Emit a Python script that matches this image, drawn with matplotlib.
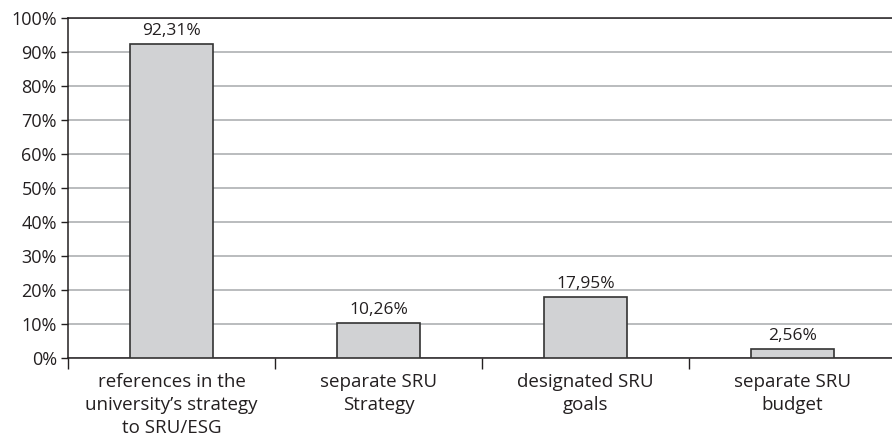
import matplotlib.pyplot as plt
from matplotlib.ticker import FixedLocator

categories = ["references in the\nuniversity\u2019s strategy\nto SRU/ESG",
              "separate SRU\nStrategy",
              "designated SRU\ngoals",
              "separate SRU\nbudget"]
values = [92.31, 10.26, 17.95, 2.56]
yticks = [0, 10, 20, 30, 40, 50, 60, 70, 80, 90, 100]

plt.rcParams['font.family'] = ['Open Sans', 'DejaVu Sans']
txt = '#231f20'

fig = plt.figure(figsize=(8.92, 4.38), dpi=100)
ax = fig.add_axes([0.0762, 0.1826, 0.928, 0.7763])

x = list(range(len(values)))
ax.bar(x, values, width=0.4, color='#d1d2d4', edgecolor='#333333', linewidth=1.2, zorder=3)
for xi, v in zip(x, values):
    ax.text(xi, v + 1.5, f"{v:.2f}%".replace('.', ','), ha='center', va='bottom',
            fontsize=12.5, color=txt)

ax.set_xlim(-0.5, 3.5)
ax.set_ylim(0, 100)
ax.set_yticks(yticks)
ax.set_yticklabels([f"{t}%" for t in yticks], fontsize=13, color=txt)
ax.yaxis.grid(True, color='#a7a9ac', linewidth=1.1, zorder=0)

ax.set_xticks(x)
ax.set_xticklabels(categories, fontsize=13.5, color=txt, linespacing=1.36)
ax.tick_params(axis='x', which='major', length=0, pad=11)
ax.xaxis.set_minor_locator(FixedLocator([-0.5, 0.5, 1.5, 2.5]))
ax.tick_params(axis='x', which='minor', length=8, width=1, color='#231f20', direction='out')
ax.tick_params(axis='y', length=5, width=1, color='#231f20', direction='out', pad=3)

for s in ['left', 'bottom', 'top']:
    ax.spines[s].set_color('#231f20')
    ax.spines[s].set_linewidth(1.1)
ax.spines['right'].set_visible(False)

fig.savefig('out.png', dpi=100)
